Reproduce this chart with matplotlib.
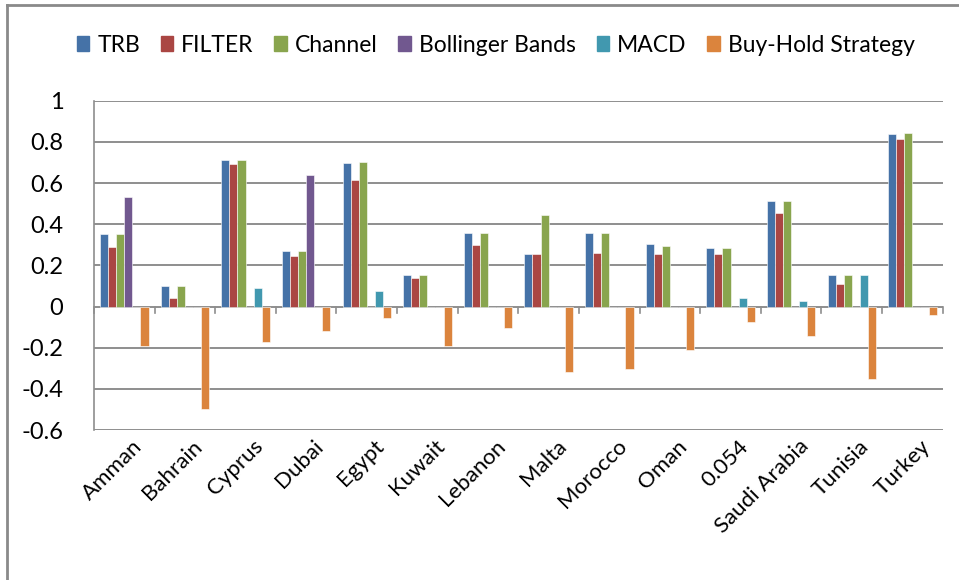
import numpy as np
import matplotlib.pyplot as plt
from matplotlib.lines import Line2D
from matplotlib.patches import Patch

markets = ['Amman', 'Bahrain', 'Cyprus', 'Dubai', 'Egypt', 'Kuwait', 'Lebanon',
           'Malta', 'Morocco', 'Oman', '0.054', 'Saudi Arabia', 'Tunisia', 'Turkey']

trb       = [0.35, 0.10, 0.71, 0.27, 0.695, 0.153, 0.357, 0.253, 0.357, 0.302, 0.283, 0.513, 0.153, 0.836]
filt      = [0.29, 0.04, 0.69, 0.245, 0.613, 0.14, 0.297, 0.253, 0.26, 0.253, 0.253, 0.452, 0.11, 0.812]
channel   = [0.35, 0.10, 0.71, 0.27, 0.70, 0.153, 0.357, 0.444, 0.357, 0.295, 0.283, 0.513, 0.153, 0.843]
bollinger = [0.53, 0, 0, 0.64, 0, 0, 0, 0, 0, 0, 0, 0, 0, 0]
macd      = [0, 0, 0.09, 0, 0.077, 0, 0, 0, 0, 0, 0.04, 0.027, 0.153, 0]
buyhold   = [-0.19, -0.50, -0.17, -0.12, -0.057, -0.194, -0.105, -0.318, -0.305, -0.21, -0.074, -0.144, -0.354, -0.039]

series = [('TRB', trb, '#4572A7'),
          ('FILTER', filt, '#AA4643'),
          ('Channel', channel, '#89A54E'),
          ('Bollinger Bands', bollinger, '#71588F'),
          ('MACD', macd, '#4198AF'),
          ('Buy-Hold Strategy', buyhold, '#DB843D')]

yticks = [1, 0.8, 0.6, 0.4, 0.2, 0, -0.2, -0.4, -0.6]

plt.rcParams['font.family'] = ['Lato', 'DejaVu Sans']
grid_col = '#8E8E8E'

fig = plt.figure(figsize=(9.59, 5.8), dpi=100)
ax = fig.add_axes([0.098, 0.2586, 0.885, 0.5678])

x = np.arange(len(markets))
w = 1 / 7.5
for k, (name, vals, col) in enumerate(series):
    ax.bar(x + (k - 2.5) * w, vals, width=w, color=col,
           edgecolor='white', linewidth=0.4, zorder=3)

ax.set_xlim(-0.5, len(markets) - 0.5)
ax.set_ylim(-0.6, 1.0)
ax.set_yticks(yticks)
ax.set_yticklabels([('%g' % t) for t in yticks], fontsize=17)
ax.tick_params(axis='y', length=0, pad=22)
for t in yticks:
    ax.axhline(t, color=grid_col, lw=1.4, zorder=1)

for s in ['top', 'right', 'bottom']:
    ax.spines[s].set_visible(False)
ax.spines['left'].set_color(grid_col)
ax.spines['left'].set_linewidth(1.2)

# category separators hanging below the zero line
ax.set_xticks([])
for b in np.arange(-0.5, len(markets)):
    ax.plot([b, b], [0, -0.03], color=grid_col, lw=1.2, zorder=2, clip_on=False)

for i, m in enumerate(markets):
    ax.text(i + 0.12, -0.63, m, rotation=45, ha='right', va='top',
            rotation_mode='anchor', fontsize=16)

handles = [Patch(color=c) for _, _, c in series]
labels = [n for n, _, _ in series]
fig.legend(handles, labels, loc='center', bbox_to_anchor=(0.517, 0.922), ncol=6,
           frameon=False, fontsize=16.5, handlelength=0.55, handleheight=0.6,
           handletextpad=0.35, columnspacing=0.9)

# outer chart border (left and top edges)
fig.add_artist(Line2D([7 / 959, 7 / 959], [0, 1 - 5 / 580], color='#8A8A8A', lw=2))
fig.add_artist(Line2D([7 / 959, 1], [1 - 5 / 580, 1 - 5 / 580], color='#8A8A8A', lw=2))

fig.savefig('out.png', dpi=100)
